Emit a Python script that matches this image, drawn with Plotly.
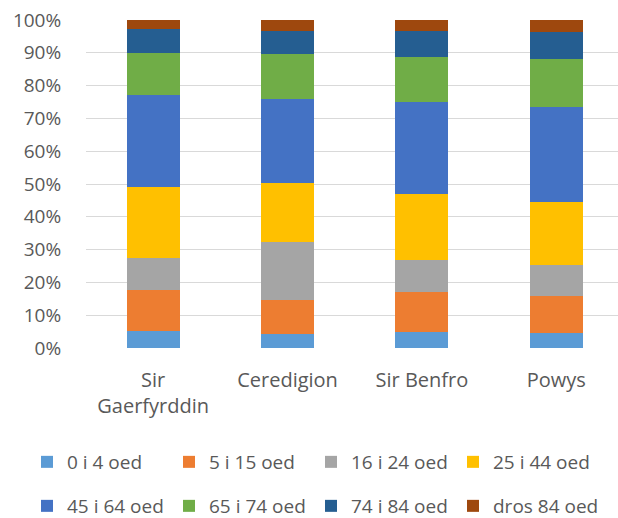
import plotly.graph_objects as go

categories = ["Sir<br>Gaerfyrddin", "Ceredigion", "Sir Benfro", "Powys"]
series_names = ["0 i 4 oed", "5 i 15 oed", "16 i 24 oed", "25 i 44 oed",
                "45 i 64 oed", "65 i 74 oed", "74 i 84 oed", "dros 84 oed"]
v_0_4 = [5.3, 4.4, 4.9, 4.6]
v_5_15 = [12.3, 10.2, 12.2, 11.4]
v_16_24 = [9.8, 17.7, 9.6, 9.2]
v_25_44 = [21.6, 18.0, 20.4, 19.2]
v_45_64 = [28.0, 25.7, 27.9, 29.2]
v_65_74 = [12.8, 13.5, 13.7, 14.6]
v_74_84 = [7.4, 7.3, 8.1, 8.2]
v_85 = [2.8, 3.2, 3.2, 3.6]
colors = ["#5B9BD5", "#ED7D31", "#A5A5A5", "#FFC000",
          "#4472C4", "#70AD47", "#255E91", "#9E480E"]

series_values = [v_0_4, v_5_15, v_16_24, v_25_44, v_45_64, v_65_74, v_74_84, v_85]

W, H = 618, 518
ML, MR, MT, MB = 86, 0, 20, 170
PW, PH = W - ML - MR, H - MT - MB
LEG_X0 = 27
COL_W = 142

# legend assignment: row 1 / row 2, last item of row 2 in its own legend (avoids clipping)
legend_ids = ["legend", "legend", "legend", "legend",
              "legend2", "legend2", "legend2", "legend3"]

fig = go.Figure()
for name, vals, col, lid in zip(series_names, series_values, colors, legend_ids):
    fig.add_trace(go.Bar(
        x=list(range(len(categories))), y=vals, name=name,
        marker=dict(color=col, line=dict(width=0)),
        width=0.395,
        legend=lid,
    ))

txt = "#595959"
font_family = "Open Sans"
legend_common = dict(
    orientation="h", xref="paper", yref="paper",
    xanchor="left", yanchor="middle",
    entrywidth=COL_W - 45, entrywidthmode="pixels",
    font=dict(family=font_family, size=19, color=txt),
    bgcolor="rgba(0,0,0,0)", traceorder="normal",
    itemclick=False, itemdoubleclick=False,
)
legend3_opts = dict(legend_common)
legend3_opts["entrywidth"] = 120

fig.update_layout(
    width=W, height=H,
    margin=dict(l=ML, r=MR, t=MT, b=MB, autoexpand=False),
    barmode="stack", barnorm="percent",
    plot_bgcolor="white", paper_bgcolor="white",
    font=dict(family=font_family, color=txt),
    xaxis=dict(
        tickmode="array", tickvals=list(range(len(categories))), ticktext=categories,
        range=[-0.5, 3.46], showgrid=False, zeroline=False, showline=False,
        tickfont=dict(size=20, color=txt), ticks="outside", ticklen=14,
        tickcolor="rgba(0,0,0,0)",
    ),
    yaxis=dict(
        range=[0, 100], dtick=10, ticksuffix="%",
        showgrid=True, gridcolor="#D9D9D9", gridwidth=1.3,
        zeroline=False, showline=False,
        tickfont=dict(size=19, color=txt),
        ticks="outside", ticklen=20, tickcolor="rgba(0,0,0,0)",
    ),
    legend=dict(x=(LEG_X0 - ML) / PW, y=(MT + PH - 462) / PH, **legend_common),
    legend2=dict(x=(LEG_X0 - ML) / PW, y=(MT + PH - 506) / PH, **legend_common),
    legend3=dict(x=(LEG_X0 + 3 * COL_W - ML) / PW, y=(MT + PH - 506) / PH, **legend3_opts),
    showlegend=True,
)

fig.write_html(
    "out.html",
    config={"displayModeBar": False},
    post_script="document.body.style.margin='0';document.body.style.overflow='hidden';",
)
